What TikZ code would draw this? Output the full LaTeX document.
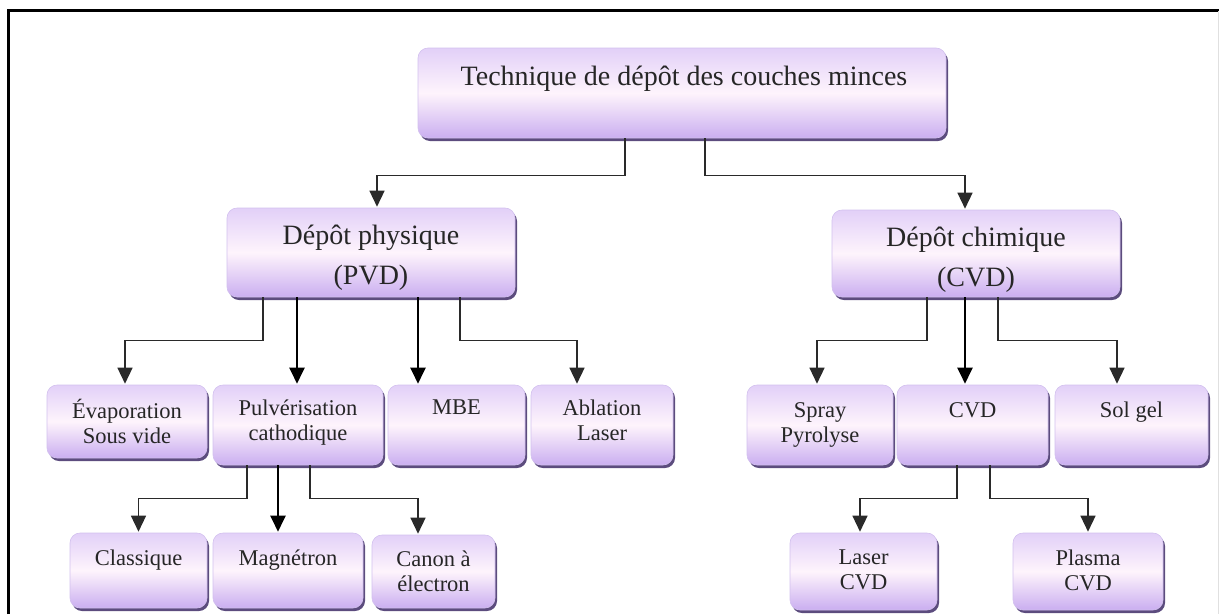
\documentclass[tikz,border=0pt]{standalone}
\usepackage{fontspec}
\setmainfont{Liberation Serif}
\usetikzlibrary{arrows.meta,shadows}
\definecolor{boxtop}{HTML}{E2D0F8}
\definecolor{boxmid}{HTML}{FEF4FC}
\definecolor{boxbot}{HTML}{CAAEF0}
\definecolor{boxline}{HTML}{D2C0EE}
\definecolor{boxshadow}{HTML}{5C4C7E}
\definecolor{txt}{HTML}{262626}
\definecolor{wire}{HTML}{2A2A2A}
\begin{document}
\begin{tikzpicture}[x=1pt,y=-1pt,
  box/.style={rectangle, rounded corners=10pt, draw=boxline, line width=0.6pt,
    top color=boxtop, bottom color=boxbot, middle color=boxmid, inner sep=0pt,
    drop shadow={shadow xshift=2pt, shadow yshift=-3pt, fill=boxshadow, opacity=1}},
  bigtxt/.style={anchor=north, align=center, inner sep=0pt, text=txt,
    font=\fontsize{28}{40}\selectfont},
  smalltxt/.style={anchor=north, align=center, inner sep=0pt, text=txt,
    font=\fontsize{22.5}{25}\selectfont},
  conn/.style={draw=wire, line width=1.4pt,
    -{Triangle[width=15pt,length=16pt]}, shorten >=1pt},
  straight/.style={conn, draw=black, line width=2.2pt}
]
\useasboundingbox (0,0) rectangle (1219,614);
% frame
\draw[black, line width=3pt] (8,614) -- (8,10) -- (1219,10);
\draw[black!12, line width=1pt] (1218,11) -- (1218,614);

% boxes
\node[box, minimum width=528pt, minimum height=90pt] (top) at (682,93) {};
\node[box, minimum width=288pt, minimum height=89pt] (pvd) at (371,252.5) {};
\node[box, minimum width=288pt, minimum height=87pt] (cvd) at (976,253.5) {};

\node[box, minimum width=160pt, minimum height=73pt] (evap) at (127,421.5) {};
\node[box, minimum width=170pt, minimum height=80pt] (pulv) at (298,425) {};
\node[box, minimum width=137pt, minimum height=80pt] (mbe) at (456.5,425) {};
\node[box, minimum width=142pt, minimum height=80pt] (abl) at (602,425) {};
\node[box, minimum width=146pt, minimum height=80pt] (spray) at (820,425) {};
\node[box, minimum width=151pt, minimum height=80pt] (cvdb) at (972.5,425) {};
\node[box, minimum width=153pt, minimum height=80pt] (solgel) at (1131.5,425) {};

\node[box, minimum width=137pt, minimum height=75pt] (class) at (138.5,570.5) {};
\node[box, minimum width=150pt, minimum height=75pt] (magn) at (288,570.5) {};
\node[box, minimum width=123pt, minimum height=73pt] (canon) at (433.5,571.5) {};
\node[box, minimum width=147pt, minimum height=77pt] (laser) at (863.5,571.5) {};
\node[box, minimum width=150pt, minimum height=77pt] (plasma) at (1088,571.5) {};

% texts
\node[bigtxt] (t-top) at (684,66) {Technique de dépôt des couches minces};
\node[bigtxt] (t-pvd) at (371,225) {Dépôt physique\\(PVD)};
\node[bigtxt] (t-cvd) at (976,227) {Dépôt chimique\\(CVD)};

\node[smalltxt] (t-evap) at (127,399) {Évaporation\\Sous vide};
\node[smalltxt] (t-pulv) at (298,400) {Pulvérisation\\cathodique};
\node[smalltxt] (t-mbe) at (456.5,400) {MBE};
\node[smalltxt] (t-abl) at (602,400) {Ablation\\Laser};
\node[smalltxt] (t-spray) at (820,402) {Spray\\Pyrolyse};
\node[smalltxt] (t-cvdb) at (972.5,402) {CVD};
\node[smalltxt] (t-solgel) at (1131.5,402) {Sol gel};

\node[smalltxt] (t-class) at (138.5,550) {Classique};
\node[smalltxt] (t-magn) at (288,550) {Magnétron};
\node[smalltxt] (t-canon) at (433.5,551) {Canon à\\électron};
\node[smalltxt] (t-laser) at (863.5,550) {Laser\\CVD};
\node[smalltxt] (t-plasma) at (1088,550) {Plasma\\CVD};

% connectors
\draw[conn] ([xshift=-57pt]top.south) -- ++(0,37) -| ([xshift=6pt]pvd.north);
\draw[conn] ([xshift=23pt]top.south) -- ++(0,37) -| ([xshift=-11pt]cvd.north);

\draw[conn] ([xshift=-108pt]pvd.south) -- ++(0,43) -| ([xshift=-2pt]evap.north);
\draw[straight] ([xshift=-74pt]pvd.south) -- ([xshift=-1pt]pulv.north);
\draw[straight] ([xshift=47pt]pvd.south) -- ([xshift=-38.5pt]mbe.north);
\draw[conn] ([xshift=89pt]pvd.south) -- ++(0,43) -| ([xshift=-25pt]abl.north);

\draw[conn] ([xshift=-49pt]cvd.south) -- ++(0,43) -| ([xshift=-3pt]spray.north);
\draw[straight] ([xshift=-11pt]cvd.south) -- ([xshift=-7.5pt]cvdb.north);
\draw[conn] ([xshift=22pt]cvd.south) -- ++(0,43) -| ([xshift=-14.5pt]solgel.north);

\draw[conn] ([xshift=-51pt]pulv.south) -- ++(0,33) -| (class.north);
\draw[straight] ([xshift=-20pt]pulv.south) -- ([xshift=-10pt]magn.north);
\draw[conn] ([xshift=12pt]pulv.south) -- ++(0,33) -| ([xshift=-15.5pt]canon.north);

\draw[conn] ([xshift=-15.5pt]cvdb.south) -- ++(0,33) -| ([xshift=-3.5pt]laser.north);
\draw[conn] ([xshift=17.5pt]cvdb.south) -- ++(0,33) -| (plasma.north);
\end{tikzpicture}
\end{document}
